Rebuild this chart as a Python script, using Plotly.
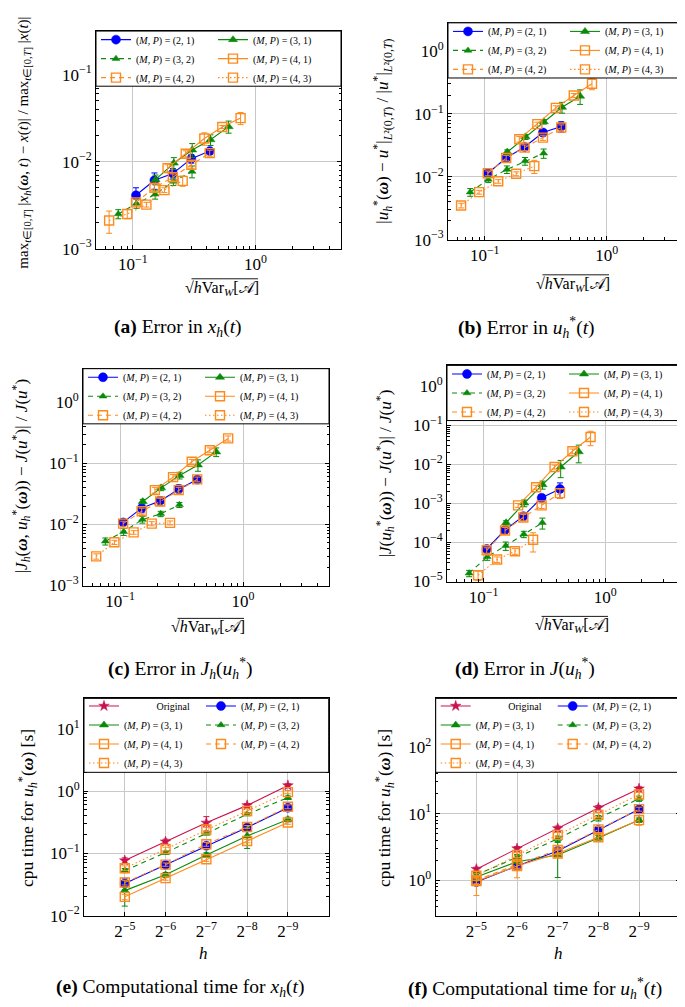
import math
import plotly.graph_objects as go

W, H = 685, 1007
FONT = "Liberation Serif"

# ---------------- data ----------------
# x positions sqrt(h Var_W[A]) of every (M, P) series (panels a-d)
x_21 = [0.106, 0.150, 0.212, 0.300, 0.424]
x_31 = [0.153, 0.216, 0.305, 0.430, 0.605]
x_32 = [0.076, 0.107, 0.152, 0.214, 0.304]
x_41 = [0.192, 0.270, 0.383, 0.537, 0.757]
x_42 = [0.106, 0.150, 0.212, 0.300, 0.424]
x_43 = [0.064, 0.090, 0.129, 0.181, 0.255]

# step sizes h (panels e-f)
h_vals = [2 ** -5, 2 ** -6, 2 ** -7, 2 ** -8, 2 ** -9]
h_labels = ["2<sup>−5</sup>", "2<sup>−6</sup>", "2<sup>−7</sup>", "2<sup>−8</sup>", "2<sup>−9</sup>"]

# (a) error in x_h(t)
a_21 = [0.0041, 0.0061, 0.0073, 0.0108, 0.0132]
a_21e = [0.0009, 0.0013, 0.0010, 0.0012, 0.0008]
a_31 = [0.0062, 0.0096, 0.0136, 0.0178, 0.0252]
a_31e = [0.0008, 0.0015, 0.0025, 0.0025, 0.0040]
a_32 = [0.0025, 0.0033, 0.0042, 0.0059, 0.0077]
a_32e = [0.0003, 0.0004, 0.0005, 0.0006, 0.0012]
a_41 = [0.0084, 0.0123, 0.0184, 0.0250, 0.0316]
a_41e = [0.0008, 0.0010, 0.0030, 0.0010, 0.0050]
a_42 = [0.0034, 0.0050, 0.0066, 0.0092, 0.0125]
a_42e = [0.0003, 0.0005, 0.0006, 0.0008, 0.0010]
a_43 = [0.0021, 0.0025, 0.0032, 0.0047, 0.0060]
a_43e = [0.0006, 0.0003, 0.0002, 0.0003, 0.0008]

# (b) error in u_h^*(t)
b_21 = [0.0114, 0.0199, 0.0298, 0.0507, 0.0633]
b_21e = [0.0010, 0.0020, 0.0030, 0.0060, 0.0120]
b_31 = [0.0248, 0.0433, 0.0752, 0.128, 0.192]
b_31e = [0.0020, 0.0040, 0.0060, 0.025, 0.050]
b_32 = [0.0057, 0.0091, 0.0131, 0.0178, 0.0237]
b_32e = [0.0008, 0.0010, 0.0018, 0.0025, 0.0040]
b_41 = [0.0397, 0.069, 0.125, 0.197, 0.303]
b_41e = [0.004, 0.005, 0.010, 0.015, 0.060]
b_42 = [0.0114, 0.0199, 0.0291, 0.0420, 0.0610]
b_42e = [0.0010, 0.0020, 0.0030, 0.0040, 0.0060]
b_43 = [0.0035, 0.0057, 0.0085, 0.0112, 0.0148]
b_43e = [0.0003, 0.0004, 0.0006, 0.0008, 0.0035]

# (c) error in J_h(u_h^*)
c_21 = [0.0108, 0.0185, 0.0243, 0.0378, 0.0542]
c_21e = [0.0010, 0.0030, 0.0040, 0.0065, 0.0030]
c_31 = [0.0237, 0.0397, 0.0635, 0.0942, 0.154]
c_31e = [0.0020, 0.0040, 0.0080, 0.020, 0.025]
c_32 = [0.0053, 0.0076, 0.0120, 0.0149, 0.0209]
c_32e = [0.0007, 0.0010, 0.0015, 0.0015, 0.0020]
c_41 = [0.0365, 0.0596, 0.106, 0.164, 0.256]
c_41e = [0.004, 0.006, 0.010, 0.015, 0.025]
c_42 = [0.0103, 0.0164, 0.0237, 0.0365, 0.0547]
c_42e = [0.0010, 0.0020, 0.0030, 0.0040, 0.0050]
c_43 = [0.0030, 0.0051, 0.0074, 0.0103, 0.0106]
c_43e = [0.0003, 0.0004, 0.0005, 0.0008, 0.0008]

# (d) error in J(u_h^*)
d_21 = [6.8e-5, 2.09e-4, 4.71e-4, 1.39e-3, 2.34e-3]
d_21e = [1e-5, 4e-5, 1e-4, 3e-4, 1e-3]
d_31 = [3.2e-4, 1.02e-3, 3.01e-3, 8.55e-3, 2.09e-2]
d_31e = [4e-5, 2e-4, 7e-4, 4e-3, 1e-2]
d_32 = [1.63e-5, 4.29e-5, 8.26e-5, 1.63e-4, 3.2e-4]
d_32e = [3e-6, 8e-6, 2e-5, 3e-5, 1e-4]
d_41 = [8.9e-4, 2.59e-3, 8.55e-3, 2.16e-2, 4.99e-2]
d_41e = [1e-4, 3e-4, 1e-3, 3e-3, 2e-2]
d_42 = [6.3e-5, 2.02e-4, 4.37e-4, 8.9e-4, 1.83e-3]
d_42e = [1e-5, 4e-5, 8e-5, 1.5e-4, 5e-4]
d_43 = [None, 1.45e-5, 3.66e-5, 5.97e-5, 1.17e-4]
d_43e = [0, 4e-6, 6e-6, 1e-5, 6e-5]

# (e) cpu time for x_h(t)
e_or = [0.0765, 0.154, 0.309, 0.59, 1.23]
e_ore = [0.008, 0.015, 0.08, 0.04, 0.08]
e_21 = [0.0328, 0.0653, 0.1327, 0.260, 0.540]
e_21e = [0.007, 0.004, 0.010, 0.015, 0.050]
e_31 = [0.0252, 0.0452, 0.094, 0.190, 0.350]
e_31e = [0.011, 0.004, 0.008, 0.070, 0.030]
e_32 = [0.053, 0.1026, 0.209, 0.425, 0.785]
e_32e = [0.004, 0.006, 0.010, 0.020, 0.050]
e_41 = [0.0200, 0.0400, 0.0804, 0.158, 0.313]
e_41e = [0.002, 0.003, 0.006, 0.010, 0.020]
e_42 = [0.034, 0.066, 0.140, 0.265, 0.560]
e_42e = [0.003, 0.004, 0.010, 0.015, 0.040]
e_43 = [0.0578, 0.1175, 0.242, 0.480, 0.964]
e_43e = [0.005, 0.008, 0.020, 0.040, 0.060]

# (f) cpu time for u_h^*(t)
f_or = [1.47, 2.99, 6.01, 12.2, 23.7]
f_ore = [0.1, 0.2, 0.5, 1.0, 1.5]
f_21 = [0.94, 1.64, 2.76, 5.7, 11.6]
f_21e = [0.10, 0.15, 0.30, 0.5, 0.8]
f_31 = [1.12, 1.90, 2.40, 4.3, 8.0]
f_31e = [0.15, 0.50, 1.30, 0.4, 0.6]
f_32 = [1.21, 2.21, 4.21, 8.55, 16.8]
f_32e = [0.1, 0.2, 0.4, 0.8, 1.5]
f_41 = [0.97, 1.64, 2.53, 4.43, 8.0]
f_41e = [0.38, 0.55, 0.30, 0.40, 1.3]
f_42 = [1.00, 1.72, 2.85, 5.8, 11.7]
f_42e = [0.1, 0.2, 0.3, 0.6, 0.8]
f_43 = [1.17, 2.39, 4.80, 9.6, 19.4]
f_43e = [0.1, 0.2, 0.4, 0.8, 1.5]

# ---------------- styles ----------------
BLUE, GREEN, ORANGE, CRIMSON = "#0000ff", "#0a8a0a", "#ff8a1c", "#c8124e"
NB = "\u00a0"
MP = "(<i>M</i>, <i>P</i>)" + NB + "=" + NB
STYLE = {
    "or": dict(name=NB * 13 + "Original", color=CRIMSON, dash="solid", symbol="star", size=8),
    "21": dict(name=MP + "(2, 1)", color=BLUE, dash="solid", symbol="circle", size=9),
    "31": dict(name=MP + "(3, 1)", color=GREEN, dash="solid", symbol="triangle-up", size=8),
    "32": dict(name=MP + "(3, 2)", color=GREEN, dash="5px,4px", symbol="triangle-up", size=7),
    "41": dict(name=MP + "(4, 1)", color=ORANGE, dash="solid", symbol="square-open", size=9),
    "42": dict(name=MP + "(4, 2)", color=ORANGE, dash="5px,4px", symbol="square-open", size=9),
    "43": dict(name=MP + "(4, 3)", color=ORANGE, dash="1.5px,2.5px", symbol="square-open", size=9),
}
# legend column / row of each series
LEG_ERR = {"21": (1, 1), "32": (1, 2), "42": (1, 3), "31": (2, 1), "41": (2, 2), "43": (2, 3)}
LEG_CPU = {"or": (1, 1), "31": (1, 2), "41": (1, 3), "43": (1, 4),
           "21": (2, 1), "32": (2, 2), "42": (2, 3)}


def p10(e):
    return "10<sup>" + ("−" if e < 0 else "") + str(abs(e)) + "</sup>"


PANELS = [
    dict(box=(88, 333, 23.3, 243, 79), yr=(-3, -0.5), ye=[-3, -2, -1], kind="err",
         series=[("21", x_21, a_21, a_21e), ("31", x_31, a_31, a_31e), ("32", x_32, a_32, a_32e),
                 ("41", x_41, a_41, a_41e), ("42", x_42, a_42, a_42e), ("43", x_43, a_43, a_43e)]),
    dict(box=(440, 684, 15, 234, 70.7), yr=(-3, 0.45), ye=[-3, -2, -1, 0], kind="err",
         series=[("21", x_21, b_21, b_21e), ("31", x_31, b_31, b_31e), ("32", x_32, b_32, b_32e),
                 ("41", x_41, b_41, b_41e), ("42", x_42, b_42, b_42e), ("43", x_43, b_43, b_43e)]),
    dict(box=(75, 321, 364.3, 583.3, 420), yr=(-3, 0.55), ye=[-3, -2, -1, 0], kind="err",
         series=[("21", x_21, c_21, c_21e), ("31", x_31, c_31, c_31e), ("32", x_32, c_32, c_32e),
                 ("41", x_41, c_41, c_41e), ("42", x_42, c_42, c_42e), ("43", x_43, c_43, c_43e)]),
    dict(box=(439, 682.3, 361, 579.3, 416.7), yr=(-5, 0.53), ye=[-5, -4, -3, -2, -1, 0], kind="err",
         series=[("21", x_21, d_21, d_21e), ("31", x_31, d_31, d_31e), ("32", x_32, d_32, d_32e),
                 ("41", x_41, d_41, d_41e), ("42", x_42, d_42, d_42e), ("43", x_43, d_43, d_43e)]),
    dict(box=(76, 320.7, 697.3, 916.7, 772), yr=(-2, 1.49), ye=[-2, -1, 0, 1], kind="cpu",
         series=[("or", h_vals, e_or, e_ore), ("21", h_vals, e_21, e_21e), ("31", h_vals, e_31, e_31e),
                 ("32", h_vals, e_32, e_32e), ("41", h_vals, e_41, e_41e), ("42", h_vals, e_42, e_42e),
                 ("43", h_vals, e_43, e_43e)]),
    dict(box=(427.7, 671.7, 697.3, 916.7, 772), yr=(-0.53, 2.73), ye=[0, 1, 2], kind="cpu",
         series=[("or", h_vals, f_or, f_ore), ("21", h_vals, f_21, f_21e), ("31", h_vals, f_31, f_31e),
                 ("32", h_vals, f_32, f_32e), ("41", h_vals, f_41, f_41e), ("42", h_vals, f_42, f_42e),
                 ("43", h_vals, f_43, f_43e)]),
]

fig = go.Figure()
layout = dict(width=W, height=H, margin=dict(l=0, r=0, t=0, b=0),
              paper_bgcolor="white", plot_bgcolor="white", showlegend=True,
              shapes=[], annotations=[])

tickfont = dict(family=FONT, size=17, color="black")
common_axis = dict(ticks="inside", ticklen=4, tickwidth=1, tickcolor="black",
                   showline=True, linecolor="black", linewidth=1, mirror="ticks",
                   showgrid=True, gridcolor="#c9c9c9", gridwidth=1, zeroline=False,
                   tickfont=tickfont, tickmode="array")

for i, p in enumerate(PANELS):
    sfx = "" if i == 0 else str(i + 1)
    l, r, t, b, lb = p["box"]
    legmap = LEG_ERR if p["kind"] == "err" else LEG_CPU
    for key, xs, ys, es in p["series"]:
        st = STYLE[key]
        col, rank = legmap[key]
        li = 2 * i + col
        leg = "legend" if li == 1 else "legend%d" % li
        is_open = st["symbol"].endswith("open")
        fig.add_trace(go.Scatter(
            x=xs, y=ys, mode="lines+markers", name=st["name"],
            error_y=dict(type="data", array=es, visible=True, color=st["color"], thickness=1, width=3),
            line=dict(color=st["color"], width=1.1, dash=st["dash"]),
            marker=dict(symbol=st["symbol"], size=st["size"], color=st["color"],
                        line=dict(color=st["color"], width=1.4 if is_open else 0.5)),
            xaxis="x" + sfx, yaxis="y" + sfx, legend=leg, legendrank=rank, showlegend=True))

    xa = dict(common_axis, domain=[l / W, r / W], anchor="y" + sfx, type="log")
    if p["kind"] == "err":
        xa.update(range=[math.log10(0.05), math.log10(5)], tickvals=[0.1, 1], ticktext=[p10(-1), p10(0)],
                  minor=dict(ticks="inside", ticklen=2.5, tickwidth=0.8, tickcolor="black",
                             dtick="D1", showgrid=False))
    else:
        xa.update(range=[math.log10(2 ** -4), math.log10(2 ** -10)], tickvals=h_vals, ticktext=h_labels)
    ya = dict(common_axis, domain=[1 - b / H, 1 - t / H], anchor="x" + sfx, type="log",
              range=list(p["yr"]), tickvals=[10.0 ** e for e in p["ye"]],
              ticktext=[p10(e) for e in p["ye"]],
              minor=dict(ticks="inside", ticklen=2.5, tickwidth=0.8, tickcolor="black",
                         dtick="D1", showgrid=False))
    layout["xaxis" + sfx] = xa
    layout["yaxis" + sfx] = ya

    # legend frame
    layout["shapes"].append(dict(type="rect", xref="paper", yref="paper", x0=l / W, x1=r / W,
                                 y0=1 - lb / H, y1=1 - t / H, fillcolor="white",
                                 line=dict(color="black", width=1), layer="above"))
    lift = 6 if p["kind"] == "err" else 7
    for col in (1, 2):
        li = 2 * i + col
        leg = "legend" if li == 1 else "legend%d" % li
        layout[leg] = dict(x=(l + (0 if col == 1 else 117)) / W, y=1 - (t - lift) / H,
                           xanchor="left", yanchor="top", bgcolor="rgba(0,0,0,0)", borderwidth=0,
                           font=dict(family=FONT, size=10, color="black"), itemwidth=30,
                           tracegroupgap=0)


def ann(text, xp, yp, size=15, angle=0, xanchor="center"):
    layout["annotations"].append(dict(text=text, x=xp / W, y=1 - yp / H, xref="paper", yref="paper",
                                      showarrow=False, textangle=angle, xanchor=xanchor,
                                      yanchor="middle", font=dict(family=FONT, size=size, color="black")))


OM = "<b><i>ω</i></b>"
USTAR = "<i>u</i><sub><i>h</i></sub><sup>*</sup>"
XT = "√<i>h</i>Var<sub><i>W</i></sub>[𝒜]"
XT_W = 74      # approx. rendered width of XT (px)
SQRT_W = 8.5   # approx. width of the radical sign (px)

# axis titles
ann("max<sub><i>t</i>∈[0,<i>T</i>]</sub> |<i>x<sub>h</sub></i>(" + OM + ", <i>t</i>) − <i>x</i>(<i>t</i>)| / "
    "max<sub><i>t</i>∈[0,<i>T</i>]</sub> |<i>x</i>(<i>t</i>)|", 16, 136, 15, -90)
ann("|" + USTAR + "(" + OM + ") − <i>u</i><sup>*</sup>|<sub><i>L</i>²(0,<i>T</i>)</sub> / "
    "|<i>u</i><sup>*</sup>|<sub><i>L</i>²(0,<i>T</i>)</sub>", 375, 125, 17, -90)
ann("|<i>J<sub>h</sub></i>(" + OM + ", " + USTAR + "(" + OM + ")) − <i>J</i>(<i>u</i><sup>*</sup>)| / "
    "<i>J</i>(<i>u</i><sup>*</sup>)", 13, 473, 17, -90)
ann("|<i>J</i>(" + USTAR + "(" + OM + ")) − <i>J</i>(<i>u</i><sup>*</sup>)| / <i>J</i>(<i>u</i><sup>*</sup>)",
    377, 470, 17, -90)
ann("cpu time for " + USTAR + "(" + OM + ") [s]", 20, 808, 17.5, -90)
ann("cpu time for " + USTAR + "(" + OM + ") [s]", 377, 808, 17.5, -90)

# x-axis titles (radical sign + overline bar)
for cx, cy in [(212, 283), (563, 279), (198, 626), (562, 624)]:
    x0 = cx - XT_W / 2
    ann(XT, x0, cy, 16, 0, "left")
    layout["shapes"].append(dict(type="line", xref="paper", yref="paper",
                                 x0=(x0 + SQRT_W) / W, x1=(x0 + XT_W + 1) / W,
                                 y0=1 - (cy - 9.5) / H, y1=1 - (cy - 9.5) / H,
                                 line=dict(color="black", width=0.9)))
ann("<i>h</i>", 195, 955, 17)
ann("<i>h</i>", 550, 955, 17)

# captions
ann("<b>(a)</b> Error in <i>x<sub>h</sub></i>(<i>t</i>)", 170, 323, 19.5)
ann("<b>(b)</b> Error in " + USTAR + "(<i>t</i>)", 518, 323, 19.5)
ann("<b>(c)</b> Error in <i>J<sub>h</sub></i>(" + USTAR + ")", 172, 667, 19.5)
ann("<b>(d)</b> Error in <i>J</i>(" + USTAR + ")", 517, 667, 19.5)
ann("<b>(e)</b> Computational time for <i>x<sub>h</sub></i>(<i>t</i>)", 172, 990, 19.5)
ann("<b>(f)</b> Computational time for " + USTAR + "(<i>t</i>)", 527, 990, 19.5)

fig.update_layout(**layout)
fig.write_html("out.html")
